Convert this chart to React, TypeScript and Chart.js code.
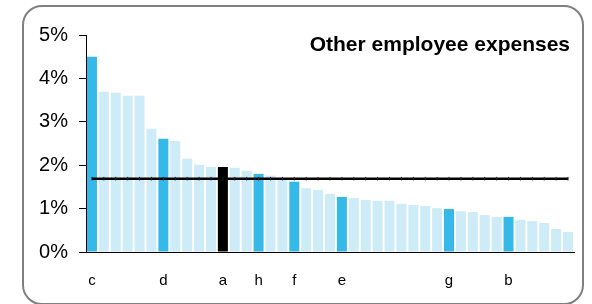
import React, { useEffect, useRef } from "react";
import { Chart, registerables } from "chart.js";

Chart.register(...registerables);

const labels = ["c", "", "", "", "", "", "d", "", "", "", "", "a", "", "", "h", "", "", "f", "", "", "", "e", "", "", "", "", "", "", "", "", "g", "", "", "", "", "b", "", "", "", "", ""];
const values = [4.5, 3.69, 3.67, 3.6, 3.6, 2.84, 2.61, 2.56, 2.15, 2.01, 1.96, 1.96, 1.94, 1.87, 1.8, 1.76, 1.66, 1.62, 1.47, 1.43, 1.34, 1.27, 1.24, 1.2, 1.18, 1.18, 1.11, 1.08, 1.06, 1.01, 0.99, 0.94, 0.92, 0.85, 0.81, 0.81, 0.74, 0.71, 0.67, 0.53, 0.46];
const averageValue = 1.69;
const yTicks = [0, 1, 2, 3, 4, 5];
const title = "Other employee expenses";

const BRIGHT = "#34b9e9";
const LIGHT = "#cdecf8";
const SELF = "#000000";

export default function App() {
  const ref = useRef<HTMLCanvasElement>(null);
  useEffect(() => {
    const canvas = ref.current!;
    const colors = labels.map((l) => (l === "a" ? SELF : l ? BRIGHT : LIGHT));
    const titlePlugin = {
      id: "innerTitle",
      afterDraw(chart: any) {
        const ctx = chart.ctx;
        ctx.save();
        ctx.font = "bold 21px 'Liberation Sans', Arial, sans-serif";
        ctx.fillStyle = "#000";
        ctx.textAlign = "right";
        ctx.textBaseline = "alphabetic";
        ctx.fillText(title, 570, 51);
        ctx.restore();
      },
    };
    const chart = new Chart(canvas, {
      data: {
        labels,
        datasets: [
          {
            type: "line",
            data: labels.map(() => averageValue),
            borderColor: "#000",
            borderWidth: 2.5,
            pointStyle: "line",
            pointRotation: 90,
            pointRadius: 1.8,
            pointBorderWidth: 1,
            pointBorderColor: "#222",
            order: 0,
          } as any,
          {
            type: "bar",
            data: values,
            backgroundColor: colors,
            categoryPercentage: 1,
            barPercentage: 0.84,
            order: 1,
          },
        ],
      },
      options: {
        animation: false,
        responsive: false,
        maintainAspectRatio: false,
        layout: { padding: { top: 35, right: 18, left: 0, bottom: 0 } },
        plugins: { legend: { display: false }, tooltip: { enabled: false } },
        scales: {
          x: {
            offset: true,
            grid: { display: false, drawTicks: false },
            border: { display: true, color: "#000", width: 1 },
            ticks: {
              autoSkip: false,
              maxRotation: 0,
              padding: 20,
              color: "#000",
              font: { family: "'Liberation Sans', Arial, sans-serif", size: 15 },
            },
            afterFit(scale: any) {
              scale.height = 52;
            },
          },
          y: {
            min: 0,
            max: 5,
            afterBuildTicks(scale: any) {
              scale.ticks = yTicks.map((v) => ({ value: v }));
            },
            grid: { drawOnChartArea: false, drawTicks: true, tickLength: 7, color: "#000" },
            border: { display: true, color: "#000", width: 1 },
            ticks: {
              padding: 11,
              color: "#000",
              font: { family: "'Liberation Sans', Arial, sans-serif", size: 20 },
              callback: (v: any) => v + "%",
            },
            afterFit(scale: any) {
              scale.width = 86;
            },
          },
        },
      },
      plugins: [titlePlugin],
    });
    return () => chart.destroy();
  }, []);
  return (
    <div style={{ position: "fixed", left: 0, top: 0, width: 592, height: 304, background: "#fff" }}>
      <div
        style={{
          position: "absolute",
          left: 22,
          top: 5,
          width: 562,
          height: 300,
          border: "2px solid #808080",
          borderRadius: 20,
          boxSizing: "border-box",
        }}
      />
      <canvas ref={ref} width={592} height={304} style={{ position: "absolute", left: 0, top: 0 }} />
    </div>
  );
}
